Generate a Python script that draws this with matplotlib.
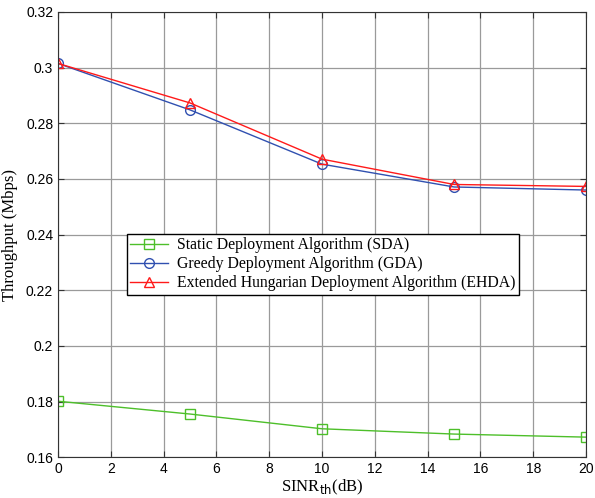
import numpy as np
import matplotlib
matplotlib.use("Agg")
import matplotlib.pyplot as plt

sinr = [0, 5, 10, 15, 20]
sda = [0.1801, 0.1755, 0.1702, 0.1683, 0.1672]
gda = [0.3015, 0.2848, 0.2653, 0.2571, 0.2560]
ehda = [0.3015, 0.2873, 0.2671, 0.2580, 0.2573]

xticks = np.arange(0, 21, 2)
yticks = np.arange(0.16, 0.3201, 0.02)
ytick_labels = ["0.16", "0.18", "0.2", "0.22", "0.24", "0.26", "0.28", "0.3", "0.32"]

fig = plt.figure(figsize=(5.95, 4.98), dpi=100)
ax = fig.add_axes([0.0975, 0.082, 0.8875, 0.894])

ax.plot(sinr, sda, color="#4dbf2a", lw=1, marker="s", ms=7, mfc="none", mew=1,
        label="Static Deployment Algorithm (SDA)")
ax.plot(sinr, gda, color="#3050b0", lw=1, marker="o", ms=7, mfc="none", mew=1,
        label="Greedy Deployment Algorithm (GDA)")
ax.plot(sinr, ehda, color="#ff1a1a", lw=1, marker="^", ms=7, mfc="none", mew=1,
        label="Extended Hungarian Deployment Algorithm (EHDA)")

ax.set_xlim(0, 20)
ax.set_ylim(0.16, 0.32)
ax.set_xticks(xticks)
ax.set_yticks(yticks)
ax.set_yticklabels(ytick_labels)
ax.tick_params(direction="in", labelsize=10, length=4, color="#333333",
               top=True, right=True)
for lab in ax.get_xticklabels() + ax.get_yticklabels():
    lab.set_family("Liberation Sans")
ax.grid(True, color="#9a9a9a", lw=0.9)
for s in ax.spines.values():
    s.set_color("#333333")

ax.set_xlabel("SINR$_{\\mathrm{th}}$(dB)", family="Liberation Serif", fontsize=12, labelpad=1)
ax.set_ylabel("Throughput (Mbps)", family="Liberation Serif", fontsize=12, labelpad=6)

leg = fig.legend(loc="upper left", bbox_to_anchor=(127 / 595, 1 - 234 / 498),
                 fancybox=False, edgecolor="black", framealpha=1,
                 handlelength=2.4, handletextpad=0.6,
                 prop={"family": "Liberation Serif", "size": 11.3},
                 borderpad=0.2, labelspacing=0.2, borderaxespad=0)
leg.get_frame().set_linewidth(1)

plt.savefig("out.png", dpi=100)
